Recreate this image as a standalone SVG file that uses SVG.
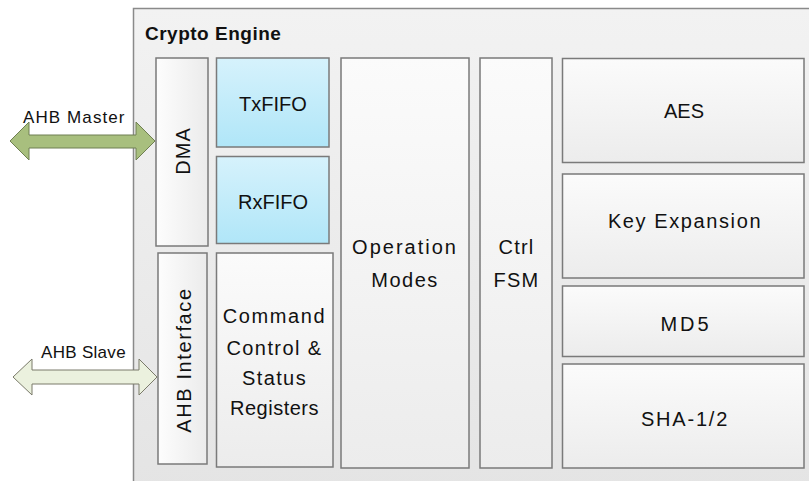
<svg xmlns="http://www.w3.org/2000/svg" width="809" height="481" viewBox="0 0 809 481">
<defs>
<linearGradient id="gOuter" x1="0" y1="0" x2="0" y2="1"><stop offset="0" stop-color="#f2f2f2"/><stop offset="1" stop-color="#e4e4e4"/></linearGradient>
<linearGradient id="gV" x1="0" y1="0" x2="0" y2="1"><stop offset="0" stop-color="#fbfbfb"/><stop offset="1" stop-color="#ececec"/></linearGradient>
<linearGradient id="gH" x1="0" y1="0" x2="1" y2="0"><stop offset="0" stop-color="#fdfdfd"/><stop offset="1" stop-color="#ebebeb"/></linearGradient>
<linearGradient id="gBlue" x1="0" y1="0" x2="0" y2="1"><stop offset="0" stop-color="#d6f2fc"/><stop offset="1" stop-color="#b0e6f8"/></linearGradient>
<style>
.box{stroke:#7a7a7a;stroke-width:1.5}
.t{font-family:"Liberation Sans",Arial,sans-serif;font-size:20px;fill:#111;text-anchor:middle}
.lbl{font-family:"Liberation Sans",Arial,sans-serif;font-size:17px;fill:#111}
</style>
</defs>
<rect width="809" height="481" fill="#ffffff"/>
<g id="crypto-engine">
<rect x="133.5" y="8.5" width="690" height="490" fill="url(#gOuter)" stroke="#8a8a8a" stroke-width="1.5"/>
<text x="145" y="40" font-family="Liberation Sans,Arial,sans-serif" font-size="19" font-weight="bold" fill="#111" letter-spacing="0.5">Crypto Engine</text>
</g>
<g id="dma">
<rect class="box" x="156" y="58" width="52" height="188" fill="url(#gH)"/>
<text class="t" transform="translate(190,151) rotate(-90)" font-size="22" letter-spacing="1">DMA</text>
</g>
<g id="txfifo">
<rect class="box" x="216.5" y="58" width="112.5" height="89" fill="url(#gBlue)"/>
<text class="t" x="273" y="111">TxFIFO</text>
</g>
<g id="rxfifo">
<rect class="box" x="216.5" y="156.5" width="112.5" height="87" fill="url(#gBlue)"/>
<text class="t" x="273" y="209">RxFIFO</text>
</g>
<g id="ahb-interface">
<rect class="box" x="158" y="253" width="49" height="211" fill="url(#gH)"/>
<text class="t" transform="translate(191,360) rotate(-90)" font-size="20" letter-spacing="1.6">AHB Interface</text>
</g>
<g id="command">
<rect class="box" x="216.5" y="253" width="116.5" height="214" fill="url(#gV)"/>
<text class="t" x="274.5" y="323" font-size="21" letter-spacing="1.6">Command</text>
<text class="t" x="274.5" y="355" font-size="21" letter-spacing="1.4">Control &amp;</text>
<text class="t" x="274.5" y="385" font-size="21" letter-spacing="1.4">Status</text>
<text class="t" x="274.5" y="415" font-size="21" letter-spacing="0.5">Registers</text>
</g>
<g id="operation-modes">
<rect class="box" x="341" y="58" width="128" height="410" fill="url(#gV)"/>
<text class="t" x="405" y="254" letter-spacing="2">Operation</text>
<text class="t" x="405" y="287" letter-spacing="1.5">Modes</text>
</g>
<g id="ctrl-fsm">
<rect class="box" x="480" y="58" width="72" height="410" fill="url(#gV)"/>
<text class="t" x="516.5" y="254" letter-spacing="1.2">Ctrl</text>
<text class="t" x="516.5" y="287" letter-spacing="1.2">FSM</text>
</g>
<g id="aes">
<rect class="box" x="562.5" y="58.5" width="241.5" height="104" fill="url(#gV)"/>
<text class="t" x="684" y="118">AES</text>
</g>
<g id="key-expansion">
<rect class="box" x="562.5" y="174" width="241.5" height="104" fill="url(#gV)"/>
<text class="t" x="685" y="228" letter-spacing="1.6">Key Expansion</text>
</g>
<g id="md5">
<rect class="box" x="562.5" y="286" width="241.5" height="70.5" fill="url(#gV)"/>
<text class="t" x="686" y="331" letter-spacing="3">MD5</text>
</g>
<g id="sha">
<rect class="box" x="562.5" y="364" width="241.5" height="104" fill="url(#gV)"/>
<text class="t" x="685" y="426" letter-spacing="1.8">SHA-1/2</text>
</g>
<g id="connectors">
<path d="M10,141 L29,122 L29,135 L136,135 L136,122 L155,141 L136,160 L136,148 L29,148 L29,160 Z" fill="#a8bf7e" stroke="#6f7f52" stroke-width="1"/>
<text class="lbl" x="23" y="123" letter-spacing="1.1">AHB Master</text>
<path d="M13,377 L32,359 L32,370 L139,370 L139,359 L157,377 L139,395 L139,384 L32,384 L32,395 Z" fill="#ebf1de" stroke="#7a7a6a" stroke-width="1"/>
<text class="lbl" x="41" y="358" font-size="16" letter-spacing="0.3">AHB Slave</text>
</g>
</svg>
